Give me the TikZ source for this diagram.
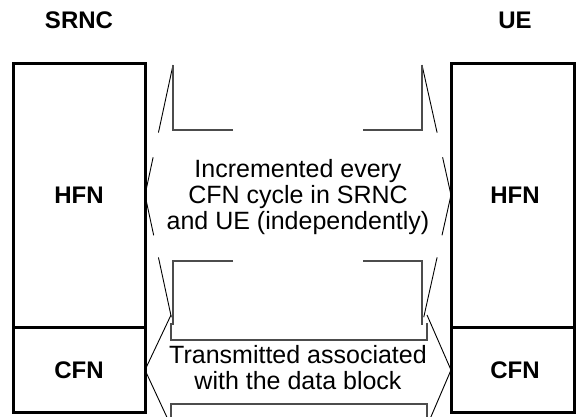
\documentclass[tikz,border=0pt]{standalone}
\usepackage{fontspec}
\setmainfont{Liberation Sans}
\usetikzlibrary{calc}

\begin{document}
\begin{tikzpicture}[x=0.5pt,y=-0.5pt,%
		   device/.style={font=\fontsize{12}{14}\selectfont\bfseries},
		   field/.style={font=\fontsize{12}{14}\selectfont\bfseries},
		   note/.style={font=\fontsize{12.5}{13}\selectfont,align=center},
		   frame/.style={line width=1.5pt},
		   pointer/.style={line width=0.45pt},
		   edge/.style={line width=0.6pt,black!70}]

	\useasboundingbox (0,0) rectangle (576,416);
	\clip (0,0) rectangle (576,416);

	    % the two stacks of counters
	    \foreach \name/\title/\xl/\xr/\xm in {%
		    srnc/SRNC/13/145/79,%
		    ue/UE/451/574/515%
	       } { \draw[frame] (\xl,64) rectangle (\xr,412);
		   \draw[frame] (\xl,327) -- (\xr,327);
		   \node[device] (\name) at (\xm,20) {\title};
		   \node[field] (\name-hfn) at (\xm,195) {HFN};
		   \node[field] (\name-cfn) at (\xm,370) {CFN};
	       }

	    % callout for HFN
	    \coordinate (hl-top) at (173,65);
	    \coordinate (hl-tip) at (145,195);
	    \coordinate (hl-bot) at (173,325);
	    \coordinate (hr-top) at (422,65);
	    \coordinate (hr-tip) at (451,195);
	    \coordinate (hr-bot) at (422,325);
	    \foreach \s in {hl,hr}
		\draw[pointer] (\s-top) -- ($(\s-top)!.52!(\s-tip)$)
		    ($(\s-top)!.71!(\s-tip)$) -- (\s-tip) -- ($(\s-tip)!.31!(\s-bot)$)
		    ($(\s-tip)!.48!(\s-bot)$) -- ($(\s-tip)!.94!(\s-bot)$);
	    \draw[edge] (233,130) -| (hl-top);
	    \draw[edge] (363,130) -| (hr-top);
	    \draw[edge] (233,261) -| (hl-bot);
	    \draw[edge] (363,261) -| (hr-bot);
	    \node[note] (hfn-note) at (298,197) {Incremented every\\CFN cycle in SRNC\\and UE (independently)};

	    % callout for CFN
	    \coordinate (cl-top) at (171,315);
	    \coordinate (cl-tip) at (145,370);
	    \coordinate (cl-bot) at (171,426);
	    \coordinate (cr-top) at (427,315);
	    \coordinate (cr-tip) at (451,370);
	    \coordinate (cr-bot) at (427,426);
	    \foreach \s in {cl,cr}
		\draw[pointer] (\s-top) -- (\s-tip) -- (\s-bot);
	    \draw[edge] (171,323) |- (427,340) -- (427,323);
	    \draw[edge] (171,426) |- (427,404) -- (427,426);
	    \node[note] (cfn-note) at (298,368) {Transmitted associated\\with the data block};
	\end{tikzpicture}
\end{document}
